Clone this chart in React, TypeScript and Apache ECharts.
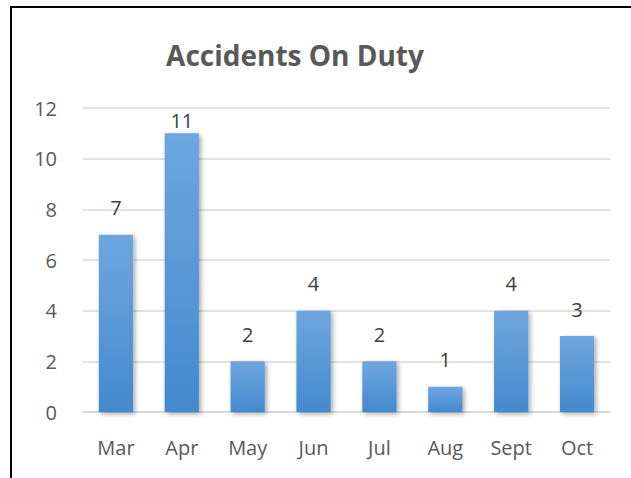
import React, { useEffect, useRef } from "react";
import * as echarts from "echarts";

const categories = ["Mar", "Apr", "May", "Jun", "Jul", "Aug", "Sept", "Oct"];
const accidents = [7, 11, 2, 4, 2, 1, 4, 3];
const yTicks = { min: 0, max: 12, interval: 2 };
const titleText = "Accidents On Duty";

const FONT = "'Open Sans', Lato, sans-serif";

export default function App() {
  const ref = useRef<HTMLDivElement>(null);
  useEffect(() => {
    if (!ref.current) return;
    const chart = echarts.init(ref.current, null, { renderer: "svg" });
    const maxVal = Math.max(...accidents);
    chart.setOption({
      animation: false,
      backgroundColor: "#ffffff",
      textStyle: { fontFamily: FONT },
      title: {
        text: titleText,
        left: 290,
        top: 36,
        textAlign: "center",
        textStyle: { fontFamily: FONT, fontSize: 28, fontWeight: "bold", color: "#595959" },
      },
      graphic: [
        { type: "line", shape: { x1: 10, y1: 7, x2: 631, y2: 7 }, style: { stroke: "#000", lineWidth: 2 } },
        { type: "line", shape: { x1: 11, y1: 6, x2: 11, y2: 478 }, style: { stroke: "#000", lineWidth: 2 } },
      ],
      grid: { left: 83, right: 21, top: 108, bottom: 66, containLabel: false },
      xAxis: {
        type: "category",
        data: categories,
        axisLine: { show: true, lineStyle: { color: "#d9d9d9", width: 1.5 } },
        axisTick: { show: false },
        axisLabel: { color: "#595959", fontSize: 20, margin: 25, fontFamily: FONT },
      },
      yAxis: {
        type: "value",
        min: yTicks.min,
        max: yTicks.max,
        interval: yTicks.interval,
        axisLine: { show: false },
        axisTick: { show: false },
        axisLabel: { color: "#595959", fontSize: 20, margin: 26, fontFamily: FONT },
        splitLine: { lineStyle: { color: "#d9d9d9", width: 1.5 } },
      },
      series: [
        {
          type: "bar",
          data: accidents.map((v) =>
            v === maxVal ? { value: v, label: { distance: 3 } } : { value: v }
          ),
          barWidth: "52%",
          itemStyle: {
            color: new echarts.graphic.LinearGradient(0, 0, 0, 1, [
              { offset: 0, color: "#6ea6de" },
              { offset: 1, color: "#4389cf" },
            ]),
            shadowColor: "rgba(0,0,0,0.35)",
            shadowBlur: 5,
            shadowOffsetX: 2,
            shadowOffsetY: 2,
          },
          label: {
            show: true,
            position: "top",
            distance: 17,
            color: "#404040",
            fontSize: 20,
            fontFamily: FONT,
          },
        },
      ],
    });
    return () => chart.dispose();
  }, []);
  return (
    <div
      ref={ref}
      style={{ position: "fixed", left: 0, top: 0, width: 631, height: 478 }}
    />
  );
}
